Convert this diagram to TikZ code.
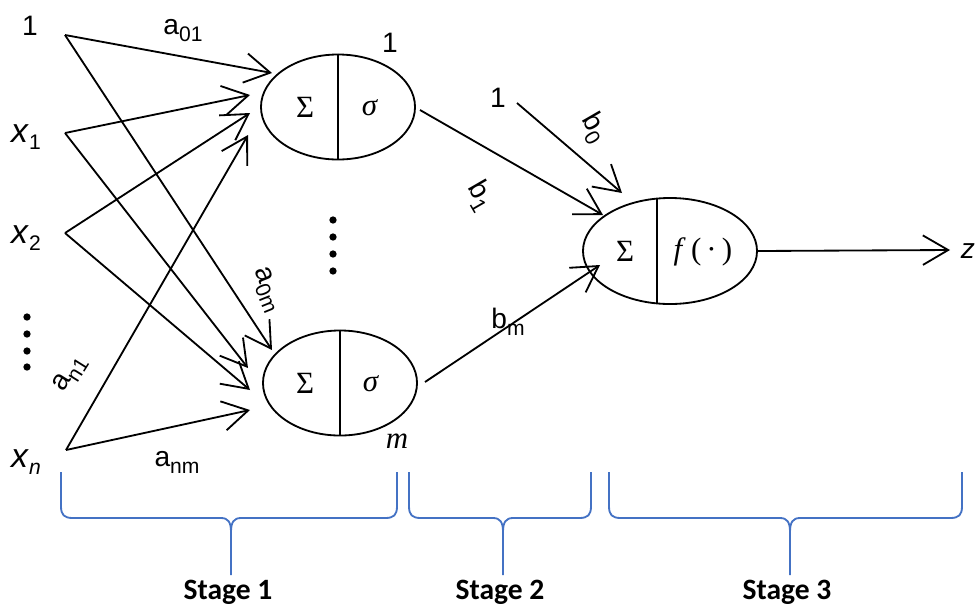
\documentclass[tikz,border=0pt]{standalone}
\usepackage{fontspec}
\setmainfont{Liberation Sans}
\newfontfamily\stagefont{Carlito}
\newfontfamily\symfont{Liberation Serif}
\usepackage{tikz}
\usetikzlibrary{shapes,arrows.meta,positioning,calc}
\definecolor{braceblue}{HTML}{4472C4}
\newcommand{\lsub}[1]{\raisebox{-5pt}{\fontsize{15}{17}\selectfont #1}}
\newcommand{\xvar}[1]{{\fontsize{24}{26}\selectfont\textit{x}}\lsub{#1}}

\begin{document}
\begin{tikzpicture}[x=0.025cm,y=-0.025cm,
    lbl/.style={font=\fontsize{20}{22}\selectfont, inner sep=0pt},
    sym/.style={font=\symfont\fontsize{22}{26}\selectfont, inner sep=0pt},
    neuron/.style={draw, ellipse, line width=1.3pt, minimum width=3.85cm, minimum height=2.625cm, inner sep=0pt},
    wire/.style={line width=1.3pt, -{Straight Barb[length=18pt,width=21pt,line width=1.3pt]}},
    stagebrace/.style={draw=braceblue, line width=1.3pt},
    stagelbl/.style={font=\stagefont\bfseries\fontsize{21}{24}\selectfont, inner sep=0pt}]
    \useasboundingbox (0,0) rectangle (977,607);

    % Inputs
    \node [lbl] (one) at (30,26) {1};
    \node [lbl] (x1) at (26,137) {\xvar{1}};
    \node [lbl] (x2) at (26,238) {\xvar{2}};
    \node [lbl] (xn) at (26,462) {\xvar{\textit{n}}};
    \foreach \y in {317,334,351,367}
        \fill (27,\y) circle (2.6pt);
    \coordinate (i0) at (65,35);
    \coordinate (i1) at (65,133);
    \coordinate (i2) at (65,233);
    \coordinate (in) at (66,450);

    % Hidden neurons
    \node [neuron] (h1) at (338,107) {};
    \node [neuron] (hm) at (340,383) {};
    \draw [line width=1.3pt] (h1.north) -- (h1.south);
    \draw [line width=1.3pt] (hm.north) -- (hm.south);
    \node [sym] (h1s) at (305,107) {Σ};
    \node [sym] (h1g) at (370,108) {\textit{σ}};
    \node [sym] (hms) at (305,383) {Σ};
    \node [sym] (hmg) at (371,384) {\textit{σ}};
    \node [lbl] (h1n) at (390,43) {1};
    \node [sym] (hmn) at (397,441) {\textit{m}};
    \foreach \y in {220,237,254,271}
        \fill (333,\y) circle (2.6pt);

    % Arrow ends at the hidden neurons
    \coordinate (t0) at (272,73);
    \coordinate (t1) at (250,95);
    \coordinate (t2) at (250,113);
    \coordinate (tn) at (248,135);
    \coordinate (u0) at (272,350);
    \coordinate (u1) at (248,368);
    \coordinate (u2) at (250,390);
    \coordinate (un) at (250,410);
    \foreach \s/\t in {i0/t0, i1/t1, i2/t2, in/tn, i0/u0, i1/u1, i2/u2, in/un}
        \draw [wire] (\s) -- (\t);

    % Weights of stage 1
    \node [lbl] (a01) at (183,31) {a\lsub{01}};
    \node [lbl, rotate=-68] (a0m) at (267,290) {a\lsub{0m}};
    \node [lbl, rotate=58] (an1) at (70,374) {a\lsub{n1}};
    \node [lbl] (anm) at (177,462) {a\lsub{nm}};

    % Output neuron
    \node [neuron, minimum width=4.35cm, minimum height=2.65cm] (out) at (670,251) {};
    \draw [line width=1.3pt] ($(out.north)+(-13,1)$) -- ($(out.south)+(-13,-1)$);
    \node [sym] (outs) at (625,251) {Σ};
    \node [sym] (outf) at (703,252) {\textit{f}\,(\,·\,)};
    \node [lbl] (bone) at (498,98) {1};
    \coordinate (bs) at (517,103);
    \coordinate (bt0) at (622,193);
    \coordinate (h1o) at (420,110);
    \coordinate (bt1) at (603,215);
    \coordinate (hmo) at (425,382);
    \coordinate (btm) at (600,265);
    \draw [wire] (bs) -- (bt0);
    \draw [wire] (h1o) -- (bt1);
    \draw [wire] (hmo) -- (btm);
    \node [lbl, rotate=-60] (b0) at (594,128) {b\lsub{0}};
    \node [lbl, rotate=-60] (b1) at (480,196) {b\lsub{1}};
    \node [lbl] (bm) at (508,322) {b\lsub{m}};
    \coordinate (zt) at (950,250);
    \draw [wire] (out.east) -- (zt);
    \node [lbl] (z) at (968,251) {\textit{z}};

    % Stage braces
    \foreach \l/\m/\r/\t in {61/231/397/1, 409/503/591/2, 609/790/962/3} {
        \draw [stagebrace] (\l,472) -- (\l,506) .. controls (\l,515) and (\l+3,518) .. (\l+12,518)
            -- (\m-10,518) .. controls (\m-3,518) and (\m,522) .. (\m,532) -- (\m,575);
        \draw [stagebrace] (\r,472) -- (\r,506) .. controls (\r,515) and (\r-3,518) .. (\r-12,518)
            -- (\m+10,518) .. controls (\m+3,518) and (\m,522) .. (\m,532);
        \node [stagelbl] (stage\t) at (\m-3,592) {Stage \t};
    }
\end{tikzpicture}
\end{document}
